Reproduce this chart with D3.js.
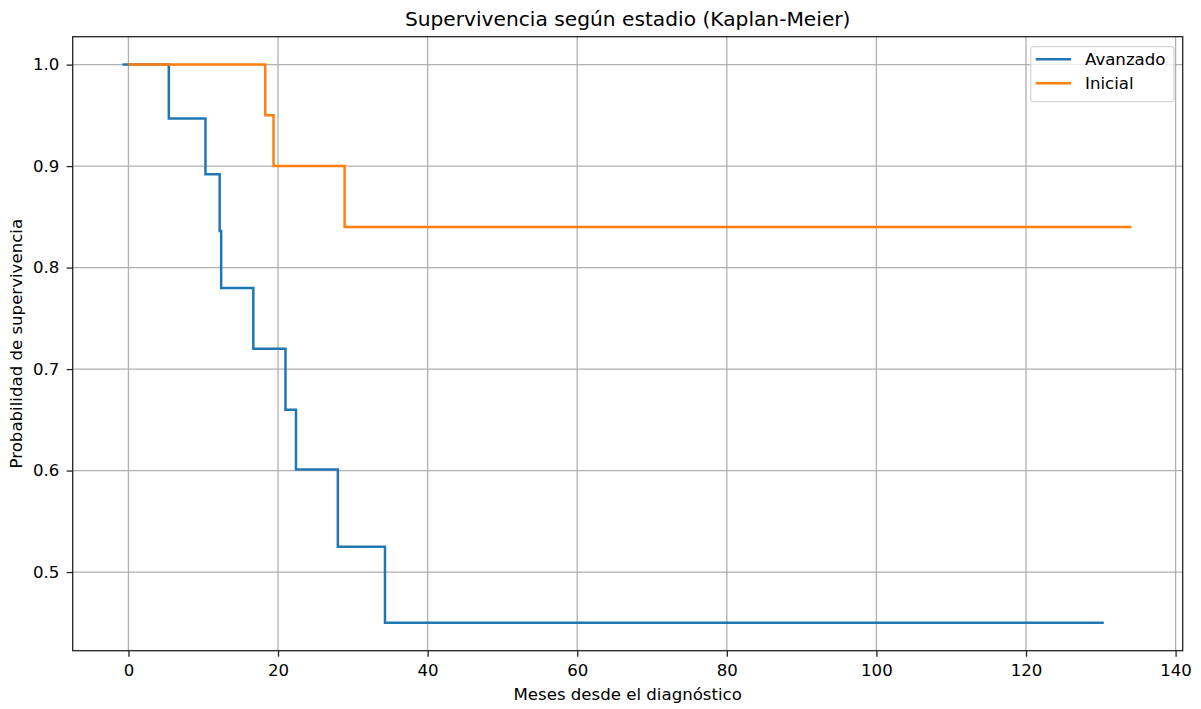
<!DOCTYPE html>
<html>
<head>
<meta charset="utf-8">
<style>
  body { margin: 0; background: #fff; }
  svg text { font-family: "DejaVu Sans", sans-serif; fill: #000; }
</style>
<title>Kaplan-Meier</title>
</head>
<body>
<script src="https://cdn.jsdelivr.net/npm/d3@7"></script>
<script>
var avanzadoT = [-0.8, 5.4, 10.3, 12.2, 12.4, 16.7, 21.0, 22.4, 28.0, 34.3, 130.4];
var avanzadoS = [1.0, 0.947, 0.892, 0.836, 0.780, 0.720, 0.660, 0.601, 0.525, 0.450, 0.450];
var inicialT = [0, 18.3, 19.4, 28.9, 134.1];
var inicialS = [1.0, 0.95, 0.90, 0.84, 0.84];
var xTicks = [0, 20, 40, 60, 80, 100, 120, 140];
var yTicks = [0.5, 0.6, 0.7, 0.8, 0.9, 1.0];
var seriesNames = ["Avanzado", "Inicial"];
var colors = ["#1f77b4", "#ff7f0e"];

var W = 1201, H = 709;
var margin = {top: 36.7, right: 18.3, bottom: 58.3, left: 72.7};
var width = W - margin.left - margin.right,
    height = H - margin.top - margin.bottom;
var fs = "16.6px";

var svg = d3.select("body").append("svg")
    .attr("width", W)
    .attr("height", H);

var g = svg.append("g")
    .attr("transform", "translate(" + margin.left + "," + margin.top + ")");

var x = d3.scaleLinear().domain([-7.45, 140.95]).range([0, width]);
var y = d3.scaleLinear().domain([0.4225, 1.0275]).range([height, 0]);

// grid
g.append("g").selectAll("line").data(xTicks).enter().append("line")
    .attr("x1", function(d) { return x(d); }).attr("x2", function(d) { return x(d); })
    .attr("y1", 0).attr("y2", height)
    .attr("stroke", "#b0b0b0").attr("stroke-width", 1.3);
g.append("g").selectAll("line").data(yTicks).enter().append("line")
    .attr("y1", function(d) { return y(d); }).attr("y2", function(d) { return y(d); })
    .attr("x1", 0).attr("x2", width)
    .attr("stroke", "#b0b0b0").attr("stroke-width", 1.3);

// curves
var line = d3.line()
    .x(function(d) { return x(d[0]); })
    .y(function(d) { return y(d[1]); })
    .curve(d3.curveStepAfter);

var series = [d3.zip(avanzadoT, avanzadoS), d3.zip(inicialT, inicialS)];
g.selectAll("path.km").data(series).enter().append("path")
    .attr("class", "km")
    .attr("d", line)
    .attr("fill", "none")
    .attr("stroke", function(d, i) { return colors[i]; })
    .attr("stroke-width", 2.5);

// axes
var xAxis = d3.axisBottom(x).tickValues(xTicks).tickSize(6).tickPadding(7.5)
    .tickFormat(d3.format("d"));
var yAxis = d3.axisLeft(y).tickValues(yTicks).tickSize(6).tickPadding(7.4)
    .tickFormat(d3.format(".1f"));

var gx = g.append("g").attr("transform", "translate(0," + height + ")").call(xAxis);
var gy = g.append("g").call(yAxis);
[gx, gy].forEach(function(a) {
  a.select(".domain").remove();
  a.selectAll(".tick line").attr("stroke", "#222").attr("stroke-width", 1.3);
  a.selectAll(".tick text").style("font-size", fs).attr("fill", "#222");
});

// frame
g.append("rect").attr("width", width).attr("height", height)
    .attr("fill", "none").attr("stroke", "#222").attr("stroke-width", 1.3);

// labels
svg.append("text").attr("x", margin.left + width / 2).attr("y", 26)
    .attr("text-anchor", "middle").style("font-size", "20.2px").attr("fill", "#222")
    .text("Supervivencia según estadio (Kaplan-Meier)");
svg.append("text").attr("x", margin.left + width / 2).attr("y", 700)
    .attr("text-anchor", "middle").style("font-size", fs).attr("fill", "#222")
    .text("Meses desde el diagnóstico");
svg.append("text").attr("transform", "translate(22," + (margin.top + height / 2) + ") rotate(-90)")
    .attr("text-anchor", "middle").style("font-size", fs).attr("fill", "#222")
    .text("Probabilidad de supervivencia");

// legend
var lg = svg.append("g").attr("transform", "translate(1030.7,46.7)");
lg.append("rect").attr("width", 143.3).attr("height", 55)
    .attr("rx", 3).attr("fill", "#fff").attr("fill-opacity", 0.8)
    .attr("stroke", "#d6d6d6").attr("stroke-width", 1.2);
var items = lg.selectAll("g.item").data(seriesNames).enter().append("g")
    .attr("transform", function(d, i) { return "translate(0," + (12.6 + i * 24) + ")"; });
items.append("line").attr("x1", 5).attr("x2", 40.3)
    .attr("stroke", function(d, i) { return colors[i]; }).attr("stroke-width", 2.5);
items.append("text").attr("x", 54.3).attr("y", 6).style("font-size", fs).attr("fill", "#222")
    .text(function(d) { return d; });
</script>
</body>
</html>
